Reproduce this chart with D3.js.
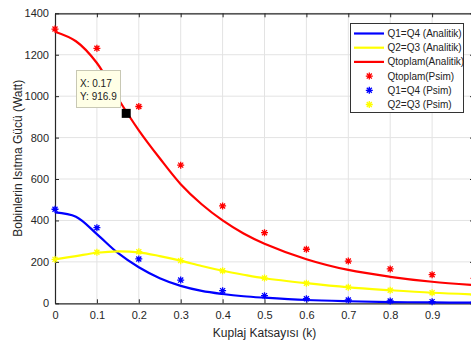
<!DOCTYPE html>
<html><head><meta charset="utf-8">
<script src="https://cdn.jsdelivr.net/npm/d3@7"></script>
<style>body{margin:0;background:#fff}svg{display:block}text{font-family:"Liberation Sans",Arial,sans-serif}</style>
</head><body><svg id="c" width="471" height="343"></svg>
<script>
// Analytic curves
const kLine = [0,0.05,0.1,0.15,0.2,0.25,0.3,0.35,0.4,0.45,0.5,0.6,0.7,0.8,0.9,1.0];
const q14Line = [439,418,334,243,174,121,84,60,45,34,27,16,10,6,4,3];
const q23Line = [212,228,244,251,246,228,206,180,157,138,121,97,77,63,51,43];
const qTopLine = [1311,1265,1160,990,835,700,575,478,400,337,288,213,161,128,104,88];
// Psim points
const kPts = [0,0.1,0.2,0.3,0.4,0.5,0.6,0.7,0.8,0.9,1.0];
const qTopPts = [1324,1231,950,667,470,341,261,204,166,138,120];
const q14Pts = [454,365,214,112,61,37,22,16,11,8,5];
const q23Pts = [212,246,249,206,157,122,97,77,63,51,40];
const xTicks = [0,0.1,0.2,0.3,0.4,0.5,0.6,0.7,0.8,0.9];
const yTicks = [0,200,400,600,800,1000,1200,1400];
const tip = {k:0.17, q:916.9};

const svg = d3.select("#c");
const x = d3.scaleLinear().domain([0,1]).range([55,474]);
const y = d3.scaleLinear().domain([0,1400]).range([303.3,13.3]);

// grid
svg.append("g").selectAll("line").data(xTicks.slice(1)).join("line")
  .attr("x1",d=>x(d)).attr("x2",d=>x(d)).attr("y1",y(0)).attr("y2",y(1400))
  .attr("stroke","#e3e3e3").attr("stroke-width",1);
svg.append("g").selectAll("line").data(yTicks.slice(1)).join("line")
  .attr("y1",d=>y(d)).attr("y2",d=>y(d)).attr("x1",x(0)).attr("x2",x(1))
  .attr("stroke","#e3e3e3").attr("stroke-width",1);

// axes
const axCol = "#262626";
const gx = svg.append("g").attr("transform",`translate(0,${y(0)})`)
  .call(d3.axisBottom(x).tickValues(xTicks).tickSizeInner(-4).tickSizeOuter(0).tickPadding(8).tickFormat(d3.format("")));
const gy = svg.append("g").attr("transform",`translate(${x(0)},0)`)
  .call(d3.axisLeft(y).tickValues(yTicks).tickSizeInner(-4).tickSizeOuter(0).tickPadding(6).tickFormat(d3.format("")));
const gt = svg.append("g").attr("transform",`translate(0,${y(1400)})`)
  .call(d3.axisTop(x).tickValues(xTicks).tickSizeInner(-4).tickSizeOuter(0).tickFormat(""));
const gr = svg.append("g").attr("transform",`translate(${x(1)},0)`)
  .call(d3.axisRight(y).tickValues(yTicks).tickSizeInner(-4).tickSizeOuter(0).tickFormat(""));
[gx,gy,gt,gr].forEach(g=>{
  g.selectAll("path").attr("stroke",axCol).attr("stroke-width",1.2);
  g.selectAll("line").attr("stroke",axCol);
  g.selectAll("text").attr("fill",axCol).style("font-size","11px").style("font-family","Liberation Sans, Arial");
});

// lines
const line = (arr)=> d3.line().x((d,i)=>x(kLine[i])).y(d=>y(d)).curve(d3.curveCatmullRom.alpha(0.5))(arr);
[[q14Line,"#0000ff"],[q23Line,"#ffff00"],[qTopLine,"#ff0000"]].forEach(([a,c])=>{
  svg.append("path").attr("d",line(a)).attr("fill","none").attr("stroke",c).attr("stroke-width",2.2);
});

// star markers
function star(g,cx,cy,c,r=3.5){
  const d = `M${cx-r},${cy}L${cx+r},${cy}M${cx},${cy-r}L${cx},${cy+r}`+
    `M${cx-r*0.72},${cy-r*0.72}L${cx+r*0.72},${cy+r*0.72}M${cx-r*0.72},${cy+r*0.72}L${cx+r*0.72},${cy-r*0.72}`;
  g.append("path").attr("d",d).attr("stroke",c).attr("stroke-width",1.3).attr("fill","none");
}
const gs = svg.append("g");
[[qTopPts,"#ff0000"],[q14Pts,"#0000ff"],[q23Pts,"#ffff00"]].forEach(([a,c])=>{
  a.forEach((v,i)=>star(gs,x(kPts[i]),y(v),c));
});

// axis labels
svg.append("text").attr("x",(x(0)+x(1))/2).attr("y",337).attr("text-anchor","middle")
  .attr("fill",axCol).style("font-size","12px").text("Kuplaj Katsayısı (k)");
svg.append("text").attr("transform",`translate(22,${(y(0)+y(1400))/2}) rotate(-90)`)
  .attr("text-anchor","middle").attr("fill",axCol).style("font-size","12px").text("Bobinlerin Isıtma Gücü (Watt)");

// datatip
const tx = x(tip.k), ty = y(tip.q);
svg.append("rect").attr("x",tx-4.5).attr("y",ty-4.5).attr("width",9).attr("height",9).attr("fill","#000");
svg.append("rect").attr("x",76.5).attr("y",70.5).attr("width",44).attr("height",37)
  .attr("fill","#ffffe6").attr("stroke","#c8c8b4").attr("stroke-width",1);
svg.append("text").attr("x",80).attr("y",86.5).style("font-size","10px").attr("fill","#222").text("X: "+tip.k);
svg.append("text").attr("x",80).attr("y",99.5).style("font-size","10px").attr("fill","#222").text("Y: "+tip.q);

// legend
const lg = svg.append("g");
lg.append("rect").attr("x",350.5).attr("y",23.5).attr("width",113).attr("height",89)
  .attr("fill","#fff").attr("stroke","#333").attr("stroke-width",1);
const legendItems = [
  {t:"Q1=Q4 (Analitik)",c:"#0000ff",type:"line"},
  {t:"Q2=Q3 (Analitik)",c:"#ffff00",type:"line"},
  {t:"Qtoplam(Analitik)",c:"#ff0000",type:"line"},
  {t:"Qtoplam(Psim)",c:"#ff0000",type:"star"},
  {t:"Q1=Q4 (Psim)",c:"#0000ff",type:"star"},
  {t:"Q2=Q3 (Psim)",c:"#ffff00",type:"star"}
];
legendItems.forEach((d,i)=>{
  const yy = 33.5 + i*14.2;
  if(d.type==="line") lg.append("line").attr("x1",354).attr("x2",384).attr("y1",yy).attr("y2",yy).attr("stroke",d.c).attr("stroke-width",2.2);
  else star(lg,369.3,yy,d.c);
  lg.append("text").attr("x",387.5).attr("y",yy+3.5).style("font-size","10px").attr("fill","#222").text(d.t);
});
</script></body></html>
